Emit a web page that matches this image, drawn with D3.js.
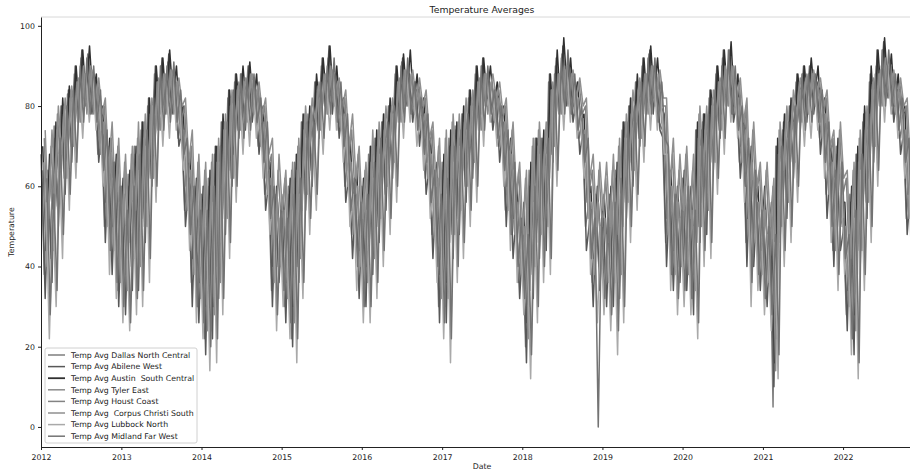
<!DOCTYPE html>
<html>
<head>
<meta charset="utf-8">
<script src="https://cdn.jsdelivr.net/npm/d3@7"></script>
<style>
  body { margin: 0; background: #fff; }
  svg { display: block; font-family: 'DejaVu Sans', sans-serif; }
</style>
</head>
<body>
<div id="chart"></div>
<script>
// Two readings per month (a warmer day and a colder day), Jan 2012 .. Dec 2022
const dallas = [
  68,38, 64,42, 75,55, 80,62, 83,70, 88,76, 92,80, 93,79, 86,68, 78,50, 70,44, 66,34,
  60,32, 63,40, 70,38, 74,50, 80,62, 88,74, 90,78, 91,80, 88,72, 76,54, 66,36, 60,30,
  58,22, 62,24, 68,35, 76,52, 82,62, 86,74, 88,76, 90,78, 86,70, 78,58, 64,34, 58,40,
  56,30, 60,22, 66,40, 76,58, 78,64, 86,74, 90,80, 92,80, 88,74, 80,60, 68,48, 62,38,
  60,34, 68,42, 72,50, 76,58, 80,64, 88,76, 91,80, 90,78, 86,74, 80,62, 70,48, 64,30,
  66,30, 72,48, 75,52, 78,60, 82,64, 88,74, 90,80, 88,76, 84,70, 78,54, 70,48, 58,36,
  52,20, 64,38, 72,46, 70,48, 86,68, 90,78, 93,80, 90,78, 84,72, 76,50, 56,36, 58,40,
  54,36, 58,34, 64,36, 74,56, 80,64, 86,72, 90,78, 93,80, 88,76, 74,46, 62,38, 58,40,
  62,38, 56,32, 74,50, 76,52, 82,66, 88,74, 92,80, 94,78, 84,66, 76,46, 68,46, 58,38,
  56,36, 54,5, 70,50, 74,56, 80,66, 86,76, 88,78, 90,80, 86,72, 80,58, 68,44, 70,50,
  52,28, 58,22, 68,44, 76,56, 86,70, 90,80, 94,82, 90,78, 86,72, 76,52, 64,42, 58,34
];
const abilene = [
  64,32, 60,36, 72,50, 80,58, 84,66, 90,76, 94,80, 92,78, 86,66, 76,46, 68,38, 62,30,
  56,28, 60,34, 68,34, 76,46, 82,60, 90,74, 92,78, 93,78, 86,70, 74,50, 62,30, 56,26,
  54,18, 60,22, 70,32, 76,48, 84,60, 88,72, 88,74, 90,76, 84,68, 78,54, 62,30, 56,36,
  52,26, 58,20, 62,36, 76,54, 76,60, 86,72, 92,78, 95,78, 88,72, 80,56, 64,42, 58,32,
  58,30, 66,38, 72,46, 76,54, 80,62, 90,76, 92,80, 88,76, 84,70, 80,58, 66,42, 60,26,
  64,26, 70,42, 74,48, 78,56, 84,62, 90,74, 92,80, 86,74, 82,66, 76,50, 68,42, 54,32,
  48,16, 60,32, 72,42, 72,44, 88,66, 92,78, 95,80, 90,76, 82,68, 74,44, 52,30, 54,34,
  52,30, 56,30, 62,32, 76,52, 80,60, 86,70, 92,78, 94,78, 88,74, 72,40, 60,34, 56,36,
  60,34, 54,28, 74,46, 78,48, 84,64, 90,72, 94,80, 92,76, 82,62, 74,40, 66,40, 56,34,
  52,30, 50,10, 70,46, 76,52, 80,62, 88,74, 90,76, 90,78, 86,68, 78,52, 66,40, 68,44,
  50,24, 56,18, 68,40, 78,52, 88,66, 94,80, 96,82, 90,76, 84,68, 74,48, 60,36, 56,30
];
const austin = [
  70,44, 68,50, 76,60, 82,66, 85,74, 90,78, 94,82, 95,82, 88,72, 80,56, 72,50, 68,42,
  62,38, 64,46, 70,44, 76,56, 82,66, 90,78, 92,80, 94,82, 90,76, 80,60, 68,42, 62,36,
  60,30, 64,30, 70,42, 78,58, 84,68, 88,78, 90,80, 91,80, 88,74, 80,62, 66,40, 60,46,
  58,36, 62,30, 68,46, 78,62, 80,70, 88,78, 92,82, 95,82, 90,78, 82,64, 72,54, 64,44,
  62,40, 70,48, 74,56, 78,64, 82,70, 90,78, 93,82, 94,80, 88,76, 82,66, 72,54, 66,38,
  68,36, 74,54, 76,58, 80,64, 84,70, 90,78, 92,82, 90,80, 86,74, 80,60, 72,52, 60,42,
  56,26, 66,44, 72,52, 74,54, 88,74, 94,80, 97,84, 92,80, 86,76, 78,56, 60,42, 60,46,
  58,42, 60,40, 66,42, 76,60, 82,70, 88,76, 92,80, 95,82, 92,80, 78,52, 64,44, 60,46,
  64,44, 60,38, 76,56, 78,58, 84,72, 90,78, 94,82, 96,80, 88,70, 78,52, 70,52, 60,44,
  60,42, 56,16, 72,56, 78,62, 82,72, 88,78, 90,80, 92,82, 90,76, 82,64, 70,50, 72,56,
  56,34, 60,28, 70,50, 80,62, 90,76, 94,82, 97,84, 93,80, 88,76, 80,58, 66,46, 60,40
];
const tyler = [
  66,40, 64,44, 74,56, 78,62, 82,70, 86,76, 90,78, 90,78, 84,68, 76,50, 68,44, 64,36,
  58,34, 62,42, 68,40, 72,50, 78,62, 86,74, 88,78, 89,78, 86,72, 74,54, 64,38, 58,32,
  56,24, 60,28, 66,36, 74,52, 80,62, 84,74, 86,76, 88,78, 84,70, 76,58, 62,36, 56,40,
  54,32, 58,26, 64,42, 74,58, 78,66, 84,74, 88,78, 90,80, 86,74, 78,60, 66,48, 60,40,
  58,36, 66,42, 70,52, 74,60, 78,66, 86,76, 89,80, 88,78, 84,74, 78,62, 68,48, 62,32,
  64,32, 70,48, 72,54, 76,60, 80,66, 86,74, 88,78, 86,76, 82,70, 76,54, 68,48, 56,38,
  50,22, 62,40, 70,48, 68,50, 84,70, 88,78, 90,80, 88,78, 82,72, 74,52, 56,38, 56,40,
  52,36, 56,36, 62,38, 72,56, 78,64, 84,72, 88,78, 90,80, 86,76, 72,48, 60,38, 56,40,
  60,38, 54,34, 72,50, 74,54, 80,66, 86,74, 90,80, 90,78, 82,66, 74,48, 66,46, 56,38,
  54,36, 52,14, 68,50, 72,56, 78,66, 84,76, 86,78, 88,80, 84,72, 78,58, 66,44, 68,50,
  50,30, 56,24, 66,44, 74,56, 84,70, 88,80, 92,82, 88,78, 84,72, 74,52, 62,42, 56,36
];
const houston = [
  72,48, 70,54, 78,64, 80,68, 84,74, 86,78, 88,80, 89,80, 86,74, 80,60, 72,52, 70,46,
  66,42, 68,50, 72,48, 76,58, 80,68, 86,78, 87,80, 88,80, 86,76, 80,62, 70,46, 66,40,
  64,34, 66,36, 70,46, 76,60, 82,70, 85,78, 86,80, 87,80, 85,76, 80,64, 68,44, 64,50,
  62,40, 64,36, 70,50, 78,64, 80,72, 85,78, 87,82, 88,82, 86,78, 82,66, 74,58, 68,48,
  64,44, 70,50, 74,58, 78,66, 80,72, 86,78, 88,82, 88,80, 86,78, 82,68, 74,56, 70,42,
  72,42, 76,58, 76,60, 80,66, 82,72, 86,78, 88,82, 86,80, 84,76, 80,62, 74,54, 64,44,
  62,30, 70,48, 74,56, 74,58, 84,76, 88,80, 89,82, 88,80, 86,78, 80,58, 64,46, 64,50,
  62,46, 64,44, 70,46, 76,62, 82,72, 86,78, 88,80, 89,82, 88,80, 80,56, 68,48, 64,50,
  68,48, 64,42, 78,60, 78,60, 82,74, 86,78, 88,82, 89,80, 86,72, 80,56, 74,56, 64,46,
  64,46, 60,22, 74,60, 78,64, 82,74, 86,80, 87,80, 88,82, 86,78, 82,66, 72,52, 74,58,
  62,38, 64,34, 72,54, 78,64, 86,78, 88,82, 90,84, 88,80, 86,78, 80,60, 70,50, 64,44
];
const corpus = [
  74,52, 74,58, 80,68, 82,72, 85,76, 87,80, 88,82, 89,82, 87,78, 82,64, 76,56, 72,50,
  68,46, 70,54, 76,52, 78,62, 82,72, 87,80, 88,82, 89,82, 87,80, 82,66, 74,50, 68,44,
  66,38, 68,40, 72,50, 78,64, 84,74, 86,80, 87,82, 88,82, 86,78, 82,68, 72,48, 68,54,
  64,44, 66,40, 72,54, 80,68, 82,76, 86,80, 88,83, 89,84, 87,80, 84,70, 78,62, 70,52,
  66,48, 74,54, 76,62, 80,70, 82,76, 87,80, 89,84, 89,82, 87,80, 84,72, 76,60, 72,46,
  74,46, 78,62, 78,64, 82,70, 84,76, 87,80, 88,83, 88,82, 86,78, 82,66, 76,58, 66,48,
  64,34, 72,52, 76,60, 76,62, 86,78, 88,82, 89,84, 89,82, 87,80, 82,62, 68,50, 66,54,
  66,50, 68,48, 72,50, 78,66, 84,76, 87,80, 88,82, 90,84, 89,82, 82,60, 72,52, 68,54,
  70,52, 68,46, 80,64, 80,64, 84,78, 87,80, 89,84, 90,82, 87,76, 82,60, 76,60, 66,50,
  66,50, 62,28, 76,64, 80,68, 84,78, 87,82, 88,82, 89,84, 87,80, 84,70, 74,56, 76,62,
  64,42, 66,38, 74,58, 80,68, 87,80, 89,84, 90,85, 89,82, 87,80, 82,64, 72,54, 66,48
];
const lubbock = [
  56,22, 54,30, 68,42, 78,54, 82,62, 86,72, 88,76, 88,74, 82,60, 70,38, 62,32, 56,26,
  50,24, 56,28, 64,30, 70,36, 80,56, 86,70, 86,72, 88,74, 82,64, 70,44, 58,26, 50,22,
  50,14, 56,16, 66,28, 74,42, 80,56, 84,68, 84,70, 86,72, 80,62, 74,48, 58,24, 52,30,
  48,22, 54,16, 58,32, 72,48, 72,54, 82,68, 86,74, 88,74, 84,66, 76,50, 58,34, 52,26,
  54,26, 62,32, 68,40, 72,48, 78,56, 86,72, 88,76, 84,70, 80,64, 76,52, 60,36, 56,22,
  58,16, 66,36, 70,42, 74,50, 80,56, 86,70, 88,76, 82,70, 78,60, 72,44, 64,36, 50,28,
  44,12, 56,26, 68,36, 68,38, 84,60, 88,74, 90,76, 86,72, 78,62, 70,38, 48,26, 50,28,
  48,24, 52,18, 58,26, 72,46, 76,54, 82,66, 88,74, 88,74, 84,68, 68,34, 56,28, 52,30,
  56,28, 50,22, 70,40, 74,42, 80,58, 86,68, 90,76, 88,72, 78,56, 70,30, 62,34, 52,28,
  48,24, 46,12, 66,40, 72,46, 76,56, 84,70, 84,72, 86,74, 82,62, 74,46, 62,34, 64,38,
  46,18, 52,12, 64,34, 74,46, 84,60, 90,76, 90,78, 86,72, 80,62, 70,42, 56,30, 52,26
];
const midland = [
  62,28, 58,34, 72,48, 80,58, 84,66, 90,76, 92,78, 90,76, 84,64, 74,44, 66,36, 60,30,
  54,26, 60,32, 68,34, 74,42, 82,60, 90,74, 90,76, 91,76, 84,68, 72,48, 60,30, 54,26,
  54,20, 60,22, 70,32, 76,46, 84,60, 88,72, 87,74, 88,76, 82,66, 76,52, 60,28, 54,34,
  52,26, 58,22, 62,36, 76,52, 76,58, 86,72, 90,78, 92,76, 86,70, 78,54, 62,40, 56,30,
  58,30, 66,36, 72,44, 76,52, 80,60, 90,76, 92,78, 86,74, 82,68, 78,56, 64,40, 58,26,
  62,22, 70,40, 74,46, 78,54, 84,60, 90,74, 90,78, 84,72, 80,64, 74,48, 66,40, 52,32,
  48,18, 60,30, 72,40, 72,42, 88,64, 92,78, 94,78, 88,74, 80,66, 72,42, 52,0, 52,32,
  52,28, 56,24, 62,30, 76,50, 80,58, 86,70, 92,78, 92,76, 86,72, 70,38, 58,32, 54,34,
  60,32, 54,26, 74,44, 78,46, 84,62, 90,72, 94,78, 90,74, 80,60, 72,36, 64,38, 54,32,
  50,28, 48,18, 70,44, 76,50, 80,60, 88,74, 88,76, 88,76, 84,66, 76,50, 64,38, 66,42,
  48,22, 54,16, 68,38, 78,50, 88,64, 94,80, 94,80, 88,74, 82,66, 72,46, 58,34, 54,28
];

const seriesNames = [
  'Temp Avg Dallas North Central',
  'Temp Avg Abilene West',
  'Temp Avg Austin  South Central',
  'Temp Avg Tyler East',
  'Temp Avg Houst Coast',
  'Temp Avg  Corpus Christi South',
  'Temp Avg Lubbock North',
  'Temp Avg Midland Far West'
];
const seriesValues = [dallas, abilene, austin, tyler, houston, corpus, lubbock, midland];
const seriesColors = ['#7e7e7e', '#585858', '#303030', '#8b8b8b', '#838383', '#8f8f8f', '#a9a9a9', '#737373'];
// first-reading day of the month for each series (spreads their zigzags apart)
const firstDay = [1, 5, 9, 13, 16, 20, 24, 28];
const yTicks = [0, 20, 40, 60, 80, 100];

const width = 910, height = 472;
const margin = { top: 17, right: -13, bottom: 25, left: 41 };

const svg = d3.select('#chart')
  .append('svg')
  .attr('width', width)
  .attr('height', height);

const x = d3.scaleTime()
  .domain([new Date(2012, 0, 1), new Date(2022, 11, 31)])
  .range([margin.left, width - margin.right]);
const y = d3.scaleLinear()
  .domain([-5, 102.2])
  .range([height - margin.bottom, margin.top]);

// reading j of a series falls in month j/2, second reading 15 days after the first
function dateFor(k, j) {
  const month = Math.floor(j / 2);
  const day = firstDay[k] + (j % 2) * 15;
  return new Date(2012, month, day);
}

const line = d3.line()
  .x((d) => x(d.date))
  .y((d) => y(d.value));

const plot = svg.append('g');
seriesValues.forEach((vals, k) => {
  const data = vals.map((v, j) => ({ date: dateFor(k, j), value: v }));
  plot.append('path')
    .datum(data)
    .attr('fill', 'none')
    .attr('stroke', seriesColors[k])
    .attr('stroke-width', 1.5)
    .attr('stroke-linejoin', 'round')
    .attr('d', line);
});

// top spine (light)
svg.append('line')
  .attr('x1', margin.left).attr('x2', width)
  .attr('y1', margin.top).attr('y2', margin.top)
  .attr('stroke', '#d8d8d8');

// Axes
const xAxis = svg.append('g')
  .attr('transform', `translate(0,${height - margin.bottom})`)
  .call(d3.axisBottom(x).ticks(d3.timeYear.every(1)).tickFormat(d3.timeFormat('%Y')).tickSize(3).tickSizeOuter(0));
const yAxis = svg.append('g')
  .attr('transform', `translate(${margin.left},0)`)
  .call(d3.axisLeft(y).tickValues(yTicks).tickSize(3).tickSizeOuter(0));

[xAxis, yAxis].forEach((g) => {
  g.select('.domain').attr('stroke', '#222').attr('stroke-width', 1);
  g.selectAll('.tick line').attr('stroke', '#222');
  g.selectAll('.tick text')
    .attr('fill', '#222')
    .style('font-size', '7.8px')
    .style('font-family', "'DejaVu Sans', sans-serif");
});
xAxis.selectAll('.tick text').attr('dy', '0.9em');

// Labels
svg.append('text')
  .attr('x', (margin.left + width - margin.right) / 2)
  .attr('y', 13)
  .attr('text-anchor', 'middle')
  .style('font-size', '9.3px')
  .attr('fill', '#222')
  .text('Temperature Averages');

svg.append('text')
  .attr('x', (margin.left + width - margin.right) / 2)
  .attr('y', 469)
  .attr('text-anchor', 'middle')
  .style('font-size', '7.8px')
  .attr('fill', '#222')
  .text('Date');

svg.append('text')
  .attr('transform', `translate(14,${(margin.top + height - margin.bottom) / 2}) rotate(-90)`)
  .attr('text-anchor', 'middle')
  .style('font-size', '7.8px')
  .attr('fill', '#222')
  .text('Temperature');

// Legend
const legend = svg.append('g').attr('transform', 'translate(45,348)');
legend.append('rect')
  .attr('width', 152)
  .attr('height', 95)
  .attr('rx', 2)
  .attr('fill', 'white')
  .attr('fill-opacity', 0.85)
  .attr('stroke', '#d0d0d0');

seriesNames.forEach((name, i) => {
  const ly = 7 + i * 11.6;
  legend.append('line')
    .attr('x1', 3).attr('x2', 20)
    .attr('y1', ly).attr('y2', ly)
    .attr('stroke', seriesColors[i])
    .attr('stroke-width', i === 2 ? 1.8 : 1.5);
  legend.append('text')
    .attr('x', 26)
    .attr('y', ly)
    .attr('dy', '0.35em')
    .style('font-size', '7.8px')
    .style('white-space', 'pre')
    .attr('fill', '#222')
    .text(name);
});
</script>
</body>
</html>
